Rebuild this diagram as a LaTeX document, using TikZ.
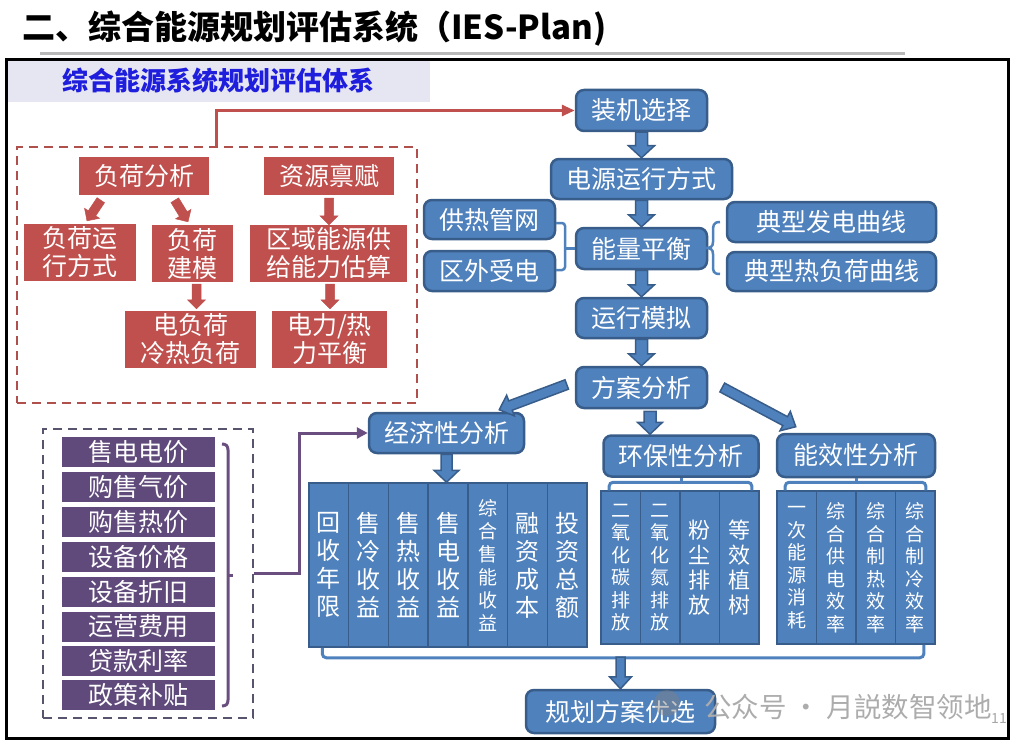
\documentclass[tikz,border=0pt]{standalone}
\usepackage{fontspec}
\setmainfont{Noto Sans CJK SC}
\usetikzlibrary{calc,arrows.meta}
\definecolor{bfill}{RGB}{79,129,189}
\definecolor{bdraw}{RGB}{56,93,138}
\definecolor{rfill}{RGB}{192,80,77}
\definecolor{rdash}{RGB}{176,80,77}
\definecolor{pfill}{RGB}{96,74,123}
\definecolor{pdash}{RGB}{88,84,110}
\definecolor{pline}{RGB}{106,78,128}
\definecolor{hdr}{RGB}{230,230,242}
\definecolor{hdrtext}{RGB}{30,30,220}
\newcommand\fsz[2]{\fontsize{#1}{#2}\selectfont}
\makeatletter
\newcommand\barrow[6]{%
  \path #2 coordinate (bas) #3 coordinate (bae);
  \pgfmathanglebetweenpoints{\pgfpointanchor{bas}{center}}{\pgfpointanchor{bae}{center}}%
  \let\baang\pgfmathresult
  \pgfpointdiff{\pgfpointanchor{bas}{center}}{\pgfpointanchor{bae}{center}}%
  \edef\badx{\the\pgf@x}\edef\bady{\the\pgf@y}%
  \pgfmathveclen{\badx}{\bady}\let\balen\pgfmathresult
  \begin{scope}[shift={(bas)}, rotate=\baang]
    \draw[#1] (0pt,-#4pt) -- ({\balen pt-#6pt},-#4pt) -- ({\balen pt-#6pt},-#5pt) -- (\balen pt,0pt)
      -- ({\balen pt-#6pt},#5pt) -- ({\balen pt-#6pt},#4pt) -- (0pt,#4pt) -- cycle;
  \end{scope}}
\makeatother
\tikzset{
  bbox/.style={draw=bdraw, fill=bfill, line width=2.5pt, rounded corners=8pt, text=white,
    font=\fsz{25}{28}, inner sep=0pt, minimum height=41pt},
  rbox/.style={fill=rfill, text=white, inner sep=0pt, align=center, font=\fsz{25}{28}},
  pbox/.style={fill=pfill, text=white, inner sep=0pt, minimum width=153pt, minimum height=30pt,
    font=\fsz{25}{28}},
  colbox/.style={draw=bdraw, fill=bfill, line width=1.5pt, text=white, align=center,
    inner sep=0pt, minimum width=39.7pt},
  barw/.style={fill=bfill, draw=bdraw, line width=1.5pt, line join=miter},
  rarw/.style={fill=rfill, draw=rfill, line width=0.5pt, line join=miter},
  brk/.style={draw=bfill, line width=3pt, rounded corners=4pt},
  dbox/.style={line width=2.5pt, dash pattern=on 9pt off 6pt, inner sep=0pt},
}
\begin{document}
\begin{tikzpicture}[x=1pt,y=-1pt]
\useasboundingbox (0,0) rectangle (1025,749);
% title
\node[anchor=west, font=\fsz{33}{36}\bfseries, inner sep=0pt] (title) at (22,29) {二、综合能源规划评估系统（IES-Plan)};
\draw[line width=3pt, gray!55] (40,54) -- (905,54);
% header
\node[fill=hdr, minimum width=424pt, minimum height=42pt, inner sep=0pt, text=hdrtext,
  font=\fsz{26}{28}\bfseries] (hdr) at (218,81) {综合能源系统规划评估体系};
\draw[line width=3pt] (6,60) rectangle (1008,738);

% red section
\node[dbox, draw=rdash, minimum width=400pt, minimum height=256pt] (rdb) at (217,275) {};
\node[rbox, minimum width=130pt, minimum height=38pt] (fh) at (144,176) {负荷分析};
\node[rbox, minimum width=130pt, minimum height=38pt] (zy) at (329,176) {资源禀赋};
\node[rbox, minimum width=112pt, minimum height=57pt] (yf) at (80,252.5) {负荷运\\行方式};
\node[rbox, minimum width=81pt, minimum height=57pt] (jm) at (192.5,253.5) {负荷\\建模};
\node[rbox, minimum width=157pt, minimum height=57pt] (qy) at (328.5,253.5) {区域能源供\\给能力估算};
\node[rbox, minimum width=131pt, minimum height=57pt] (dfh) at (190.5,339.5) {电负荷\\冷热负荷};
\node[rbox, minimum width=115pt, minimum height=57pt] (dl) at (329.5,339.5) {电力/热\\力平衡};
\barrow{rarw}{($(fh.south west)+(22,5)$)}{($(yf.north)+(7,-3)$)}{4.5}{9}{9}
\barrow{rarw}{($(fh.south west)+(96,5)$)}{($(jm.north)+(-4.5,-3)$)}{4.5}{9}{9}
\barrow{rarw}{($(zy.south)+(0,3)$)}{(qy.north -| zy.south)}{4.5}{9}{9}
\barrow{rarw}{($(jm.south)+(4,2)$)}{($(dfh.north)+(6,-2)$)}{4.5}{9}{9}
\barrow{rarw}{($(qy.south)+(1.5,2)$)}{($(dl.north)+(0.5,-2)$)}{4.5}{9}{9}

% blue main chain
\node[bbox, minimum width=131pt] (zj) at (641.5,110.5) {装机选择};
\node[bbox, minimum width=181pt, minimum height=40pt] (dy) at (641.5,179) {电源运行方式};
\node[bbox, minimum width=131pt, minimum height=39pt] (gr) at (489.5,219.5) {供热管网};
\node[bbox, minimum width=131pt, minimum height=40pt] (qw) at (489.5,271) {区外受电};
\node[bbox, minimum width=131pt] (nl) at (641.5,248.5) {能量平衡};
\node[bbox, minimum width=209pt, minimum height=40pt] (fd) at (831.5,222) {典型发电曲线};
\node[bbox, minimum width=209pt, minimum height=39pt] (rf) at (831.5,271.5) {典型热负荷曲线};
\node[bbox, minimum width=131pt, minimum height=40pt] (yx) at (641.5,318) {运行模拟};
\node[bbox, minimum width=131pt] (fa) at (641.5,387.5) {方案分析};
\node[bbox, minimum width=155pt, minimum height=40pt] (jj) at (446.5,433) {经济性分析};
\node[bbox, minimum width=155pt] (hb) at (681,456) {环保性分析};
\node[bbox, minimum width=158pt, minimum height=43pt] (nx) at (856,455.5) {能效性分析};
\node[bbox, minimum width=189pt, minimum height=43pt] (gh) at (620.5,711.5) {规划方案优选};

% red connector
\coordinate (rlx) at (216,0);
\draw[rfill, line width=3pt, -{Triangle[length=13pt,width=11pt]}] (rdb.north -| rlx) |- (zj.west);

\barrow{barw}{(zj.south)}{(dy.north)}{6}{13}{12}
\barrow{barw}{(dy.south)}{(nl.north)}{6}{13}{12}
\barrow{barw}{(nl.south)}{(yx.north)}{6}{13}{12}
\barrow{barw}{(yx.south)}{(fa.north)}{6}{13}{12}
\barrow{barw}{($(fa.west)+(-8,-3)$)}{($(jj.north east)+(-26,-2)$)}{5}{11}{12}
\barrow{barw}{($(fa.south)+(8.5,2)$)}{($(hb.north)+(-31,0)$)}{6}{12.5}{12}
\barrow{barw}{($(fa.east)+(14,0)$)}{($(nx.north west)+(20,-6)$)}{5}{11}{12}

% brackets around energy balance
\draw[brk, line width=2.5pt, rounded corners=3pt] (556,223) -- (565,223) -- (565,270) -- (556,270);
\coordinate (lbm) at (565,248.5);
\draw[brk, line width=2.5pt] (lbm) -- (nl.west);
\draw[draw=bfill, line width=2.5pt] (720,222) .. controls (713,222) and (713,226) .. (713,232) -- (713,242)
  .. controls (713,247) and (710,248) .. (706,248) .. controls (710,248) and (713,249) .. (713,254)
  -- (713,265) .. controls (713,271) and (713,274) .. (720,274);

% economic columns
\begin{scope}[every node/.style={colbox, minimum height=164pt}]
\node[font=\fsz{24}{28}] (e1) at (328.86,565) {回\\收\\年\\限};
\node[font=\fsz{24}{28}] (e2) at (368.57,565) {售\\冷\\收\\益};
\node[font=\fsz{24}{28}] (e3) at (408.29,565) {售\\热\\收\\益};
\node[font=\fsz{24}{28}] (e4) at (448,565) {售\\电\\收\\益};
\node[font=\fsz{19}{23}] (e5) at (487.71,565) {综\\合\\售\\能\\收\\益};
\node[font=\fsz{24}{28}] (e6) at (527.43,565) {融\\资\\成\\本};
\node[font=\fsz{24}{28}] (e7) at (567.14,565) {投\\资\\总\\额};
\end{scope}
\barrow{barw}{(jj.south)}{(jj.south |- e4.north)}{5.5}{12.5}{12}

% environmental columns
\begin{scope}[every node/.style={colbox, minimum height=153pt}]
\node[font=\fsz{19}{22.5}] (v1) at (620.75,567.5) {二\\氧\\化\\碳\\排\\放};
\node[font=\fsz{19}{22.5}] (v2) at (660.25,567.5) {二\\氧\\化\\氮\\排\\放};
\node[font=\fsz{22}{25}] (v3) at (699.75,567.5) {粉\\尘\\排\\放};
\node[font=\fsz{22}{25}] (v4) at (739.25,567.5) {等\\效\\植\\树};
\end{scope}
\draw[brk] ($(v1.north west)+(9,0)$) -- ++(0,-8) -| ($(v4.north east)+(-8,0)$);
\coordinate (hbk) at (681,483);
\draw[brk, rounded corners=0pt] (hb.south) -- (hbk);

% efficiency columns
\begin{scope}[every node/.style={colbox, minimum height=153pt}]
\node[font=\fsz{19}{22.5}] (f1) at (796.75,567.5) {一\\次\\能\\源\\消\\耗};
\node[font=\fsz{19}{22.5}] (f2) at (836.25,567.5) {综\\合\\供\\电\\效\\率};
\node[font=\fsz{19}{22.5}] (f3) at (875.75,567.5) {综\\合\\制\\热\\效\\率};
\node[font=\fsz{19}{22.5}] (f4) at (915.25,567.5) {综\\合\\制\\冷\\效\\率};
\end{scope}
\draw[brk] ($(f1.north west)+(9,0)$) -- ++(0,-8) -| ($(f4.north east)+(-10,0)$);
\coordinate (nxk) at (856,483);
\draw[brk, rounded corners=0pt] (nx.south) -- (nxk);

% bottom bracket
\draw[brk] ($(e1.south west)+(14,0)$) -- ++(0,10) -| ($(f4.south east)+(-12,0)$);
\coordinate (bb) at (620.5,657);
\barrow{barw}{(bb)}{(gh.north)}{4.5}{11}{12}

% purple section
\node[dbox, draw=pdash, minimum width=210pt, minimum height=289pt] (pdb) at (148,573.5) {};
\node[pbox] (p1) at (138.5,452) {售电电价};
\node[pbox] (p2) at (138.5,487) {购售气价};
\node[pbox] (p3) at (138.5,522) {购售热价};
\node[pbox] (p4) at (138.5,557) {设备价格};
\node[pbox] (p5) at (138.5,592) {设备折旧};
\node[pbox] (p6) at (138.5,626.5) {运营费用};
\node[pbox] (p7) at (138.5,660.5) {贷款利率};
\node[pbox] (p8) at (138.5,695) {政策补贴};
\draw[pline, line width=3pt] (222,444) .. controls (226,444) and (228,446) .. (228,450) -- (228,700)
  .. controls (228,704) and (226,706) .. (222,706);
\draw[pline, line width=3pt] (228,575) -- (233,575);
\draw[pline, line width=3pt, -{Triangle[length=11pt,width=11pt]}] (pdb.east) -- ++(45,0) |- (jj.west);

% watermark
\fill[gray, opacity=0.45] (667,703) circle (13pt);
\node[anchor=west, inner sep=0pt, text=gray!65, font=\fsz{27.5}{30}] (wm) at (704,707) {公众号 · 月説数智领地};
\node[inner sep=0pt, text=gray!70, font=\fsz{14}{16}] (pg) at (999,719) {11};
\end{tikzpicture}
\end{document}
